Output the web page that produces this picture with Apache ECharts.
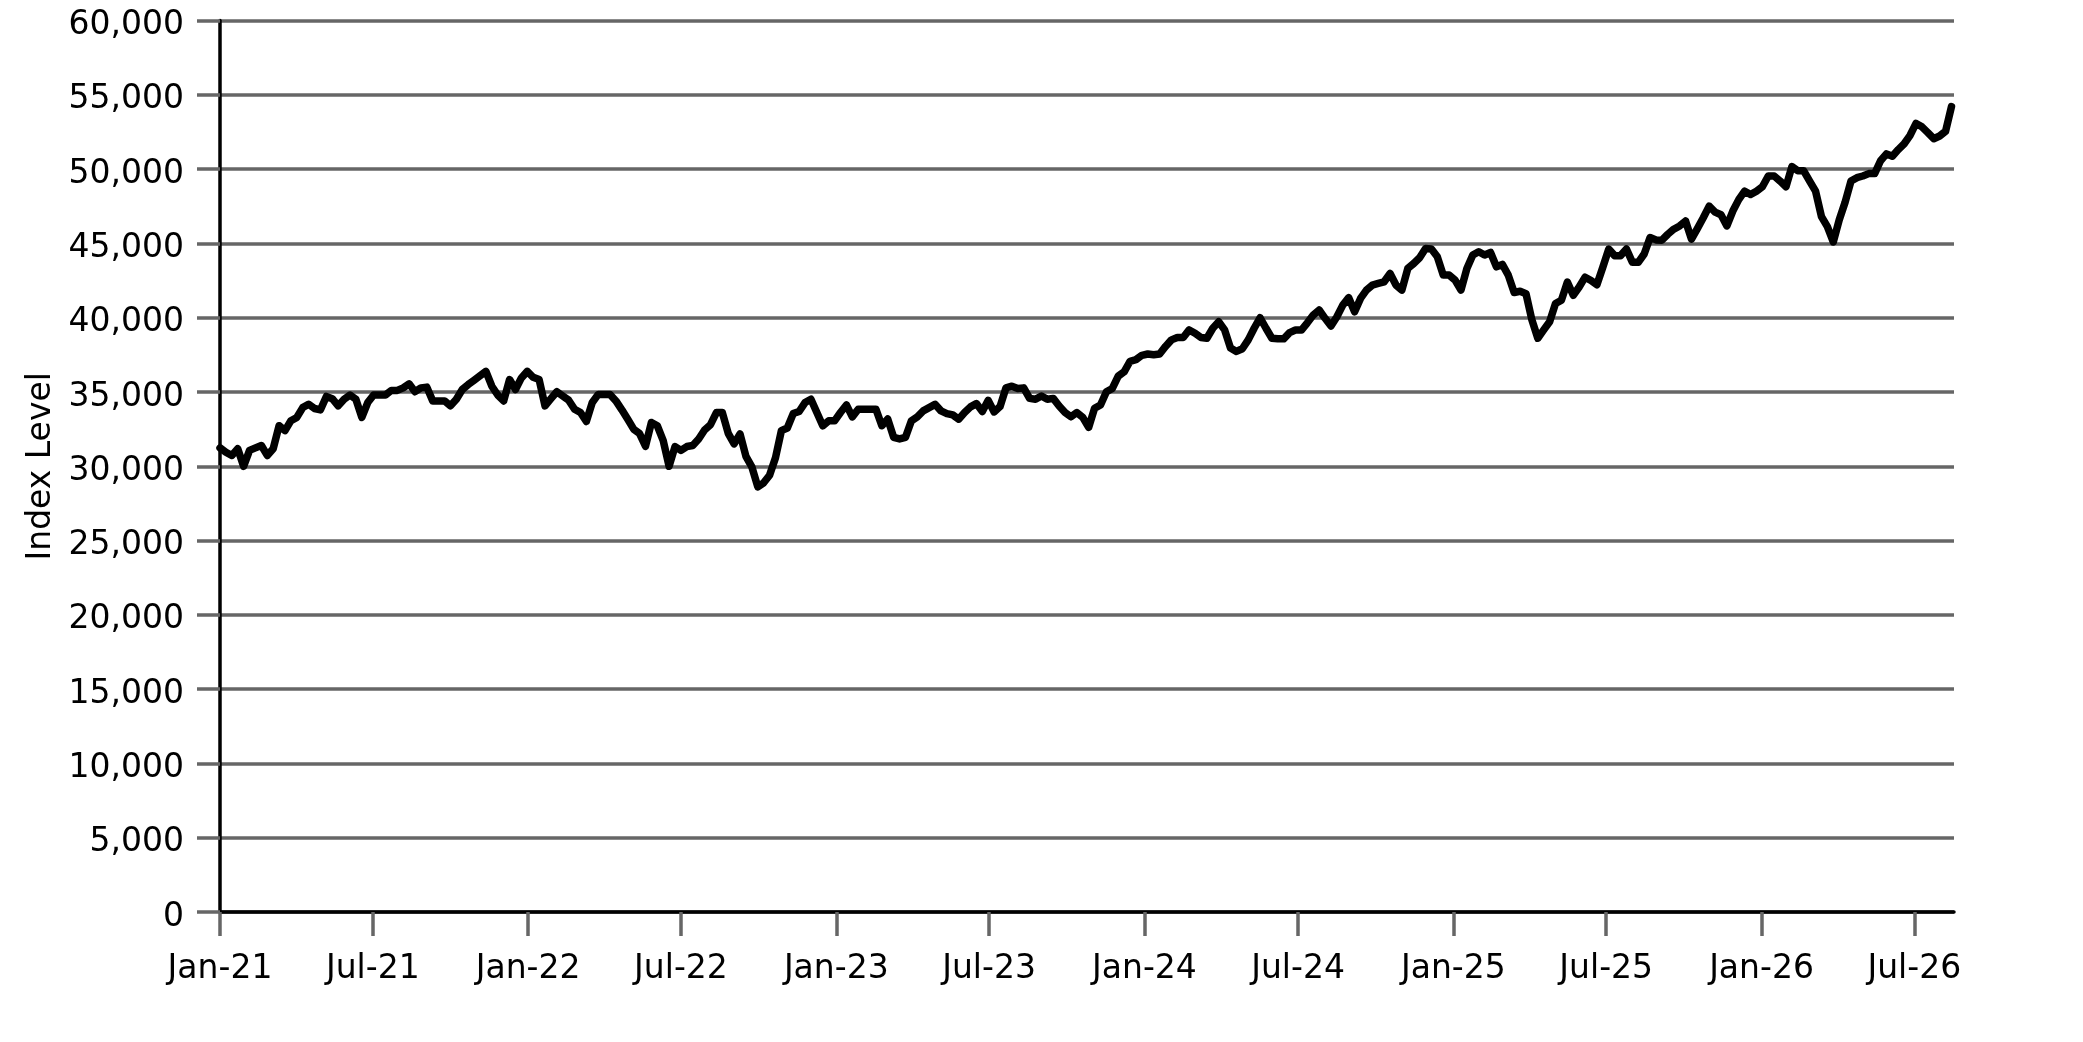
<!DOCTYPE html>
<html>
<head>
<meta charset="utf-8">
<script src="https://cdn.jsdelivr.net/npm/echarts@6/dist/echarts.min.js"></script>
<style>
html,body{margin:0;padding:0;background:#fff;}
#chart{width:2083px;height:1042px;}
</style>
</head>
<body>
<div id="chart"></div>
<script>
// Weekly observations, starting Friday 2021-01-01, one value per week
const firstWeek = [2021, 0, 1];
const indexLevels = [
  // 2021
  31240, 30950, 30730, 31180, 30000, 31070, 31240, 31400, 30730, 31180,
  32730, 32400, 33070, 33290, 33950, 34180, 33890, 33800, 34700, 34550,
  34070, 34510, 34800, 34510, 33290, 34290, 34800, 34800, 34800, 35110,
  35110, 35280, 35550, 35020, 35280, 35330, 34400, 34400,
  34400, 34070, 34510, 35170, 35500, 35800, 36100, 36390, 35390, 34800,
  34400, 35840, 35170, 35950, 36390, 35990, 35840, 34070, 34550, 35020,
  34730, 34450, 33840, 33620, 33020, 34300, 34840, 34840, 34840, 34400,
  33800, 33160, 32500, 32200, 31350,
  // 2022 H2
  32950, 32730, 31730, 30000, 31330, 31070, 31330, 31400, 31840, 32440,
  32800, 33620, 33620, 32220, 31510, 32180, 30670, 29960, 28620, 28890,
  29400, 30580, 32400, 32580, 33550, 33690, 34290, 34510, 33620, 32730,
  33060, 33060, 33620, 34130, 33330, 33840, 33840,
  // 2023
  33840, 33840, 32730, 33180, 31950, 31840, 31950, 33060, 33330, 33730,
  33950, 34170, 33730, 33550, 33460, 33170, 33620, 34000, 34220, 33690,
  34440, 33660, 34020, 35280, 35390, 35240, 35280, 34570, 34510, 34730,
  34510, 34570, 34060, 33620,
  33330, 33620, 33290, 32620, 33910, 34130, 35020, 35240, 36070, 36360,
  37070, 37180, 37470, 37560, 37510, 37560, 38070, 38510, 38670, 38670,
  39180, 38960, 38670, 38620, 39290, 39730, 39180, 37960, 37730, 37910,
  38510, 39290, 40000, 39290, 38620, 38580, 38580, 39000,
  // 2024 H2 - 2025 Q1
  39170, 39170, 39660, 40180, 40520, 39960, 39440, 40070, 40850, 41350,
  40400, 41300, 41860, 42200, 42310, 42420, 42980, 42200, 41860, 43320,
  43650, 44040, 44660, 44620, 44100, 42870, 42870, 42530, 41860, 43320,
  44220, 44440, 44220, 44390, 43430, 43590, 42870, 41700,
  // 2025
  41780, 41620, 39850, 38620, 39180, 39730, 40960, 41180, 42400, 41510,
  42070, 42730, 42510, 42220, 43400, 44620, 44180, 44180, 44620, 43730,
  43730, 44290, 45400, 45240, 45220, 45620, 45960, 46180, 46510, 45290,
  46000, 46730, 47510, 47110, 46930, 46180,
  // 2026
  47180, 47950, 48520, 48290, 48520, 48820, 49540, 49540, 49200, 48820,
  50180, 49890, 49890, 49200, 48520, 46810, 46130, 45100, 46580, 47770,
  49200, 49430, 49540, 49700, 49700, 50570, 51030, 50870, 51320, 51710,
  52280, 53080, 52850, 52460, 52050, 52230, 52550, 54210
];
const xTickDates = [
  [2021,0,1],[2021,6,1],[2022,0,1],[2022,6,1],[2023,0,1],[2023,6,1],
  [2024,0,1],[2024,6,1],[2025,0,1],[2025,6,1],[2026,0,1],[2026,6,1]
];
const xTickLabels = ['Jan-21','Jul-21','Jan-22','Jul-22','Jan-23','Jul-23',
  'Jan-24','Jul-24','Jan-25','Jul-25','Jan-26','Jul-26'];
const yTicks = [0, 5000, 10000, 15000, 20000, 25000, 30000, 35000, 40000, 45000, 50000, 55000, 60000];
const yAxisTitle = 'Index Level';

const FONT = 'DejaVu Sans';
const GRID_GRAY = '#666666';
const DAY = 86400000;
const t0 = Date.UTC(firstWeek[0], firstWeek[1], firstWeek[2]);
const seriesData = indexLevels.map((v, i) => [t0 + i * 7 * DAY, v]);
const tickTimes = xTickDates.map(d => Date.UTC(d[0], d[1], d[2]));
function tickLabel(v) {
  let best = 0, bd = Infinity;
  tickTimes.forEach((t, i) => { const d = Math.abs(t - v); if (d < bd) { bd = d; best = i; } });
  return xTickLabels[best];
}

const chart = echarts.init(document.getElementById('chart'), null, {renderer: 'canvas'});
chart.setOption({
  animation: false,
  backgroundColor: '#ffffff',
  grid: {left: 220, right: 129, top: 20.6, bottom: 130, containLabel: false},
  xAxis: {
    type: 'value',
    min: seriesData[0][0],
    max: seriesData[seriesData.length - 1][0] + 3 * DAY,
    scale: true,
    axisLine: {show: true, onZero: false, lineStyle: {color: '#000', width: 3.5}},
    axisTick: {show: true, customValues: tickTimes, length: 24, lineStyle: {color: GRID_GRAY, width: 3.5}},
    axisLabel: {
      customValues: tickTimes,
      formatter: (v) => tickLabel(v),
      fontFamily: FONT, fontSize: 33, color: '#000', margin: 41,
      showMinLabel: true, showMaxLabel: true, hideOverlap: false
    },
    splitLine: {show: false}
  },
  yAxis: {
    type: 'value',
    min: yTicks[0],
    max: yTicks[yTicks.length - 1],
    interval: yTicks[1] - yTicks[0],
    name: yAxisTitle,
    nameLocation: 'middle',
    nameGap: 152,
    nameRotate: 90,
    nameTextStyle: {fontFamily: FONT, fontSize: 33, color: '#000'},
    axisLine: {show: true, lineStyle: {color: '#000', width: 3.5}},
    axisTick: {show: true, length: 23, lineStyle: {color: GRID_GRAY, width: 3.5}},
    axisLabel: {
      formatter: (v) => '{v|' + v.toLocaleString('en-US') + '}',
      fontFamily: FONT, fontSize: 33, color: '#000', margin: 36,
      rich: {v: {fontFamily: FONT, fontSize: 33, color: '#000', padding: [10, 0, 0, 0]}}
    },
    splitLine: {show: true, lineStyle: {color: GRID_GRAY, width: 3.5}}
  },
  series: [{
    type: 'line',
    data: seriesData,
    showSymbol: false,
    symbol: 'none',
    lineStyle: {color: '#000', width: 7.5, join: 'round', cap: 'round'},
    z: 5
  }]
});
</script>
</body>
</html>
